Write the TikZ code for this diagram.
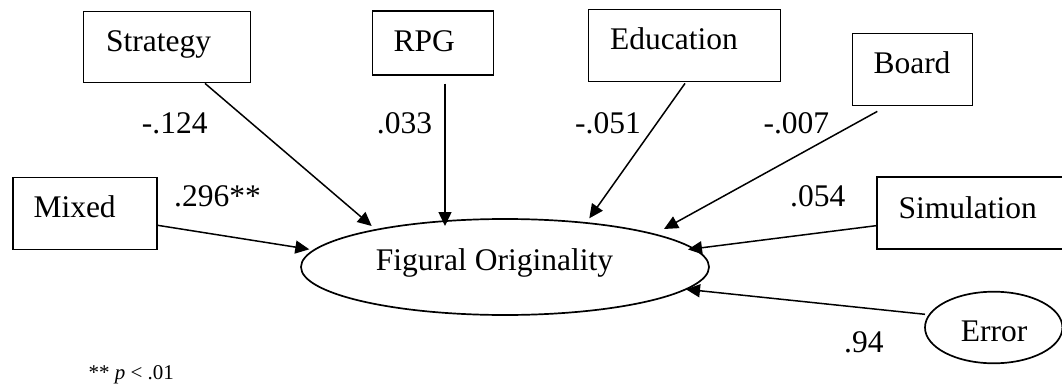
\documentclass[tikz,border=0pt]{standalone}
\usepackage{fontspec}
\setmainfont{Liberation Serif}
\usetikzlibrary{arrows.meta,calc,shapes.geometric}
\begin{document}
\begin{tikzpicture}[x=1pt,y=-1pt,
  box/.style={draw, line width=1.8pt, rectangle, inner sep=0pt},
  ell/.style={draw, line width=1.7pt, ellipse, inner sep=0pt},
  lbl/.style={anchor=base west, inner sep=0pt, font=\fontsize{31.5}{36}\selectfont},
  note/.style={anchor=base west, inner sep=0pt, font=\fontsize{21}{25}\selectfont},
  arr/.style={line width=1.5pt, -{Triangle[length=14pt,width=13pt]}}]
\useasboundingbox (0,0) rectangle (1062,385);
% boxes
\node[box, minimum width=167pt, minimum height=71pt] (strategy) at (167,47) {};
\node[box, minimum width=121pt, minimum height=64pt] (rpg) at (433,43) {};
\node[box, minimum width=192pt, minimum height=72pt] (education) at (684.5,45.5) {};
\node[box, minimum width=120pt, minimum height=72pt] (board) at (912.5,69.5) {};
\node[box, minimum width=144pt, minimum height=72pt] (mixed) at (84.7,213.5) {};
\node[box, minimum width=189pt, minimum height=72pt] (sim) at (971.35,213.3) {};
\node[ell, minimum width=408pt, minimum height=96pt] (fo) at (505,267) {};
\node[ell, minimum width=137.4pt, minimum height=71.6pt] (err) at (993.7,327.5) {};
% texts
\node[lbl] (strategyT) at (106,51.7) {Strategy};
\node[lbl] (rpgT) at (393.3,51.7) {RPG};
\node[lbl] (educationT) at (610,50) {Education};
\node[lbl] (boardT) at (873.3,74) {Board};
\node[lbl] (mixedT) at (33.3,217.3) {Mixed};
\node[lbl] (simT) at (898.3,218.3) {Simulation};
\node[lbl] (foT) at (375.7,270.7) {Figural Originality};
\node[lbl] (errT) at (960.7,341) {Error};
% coefficients
\node[lbl] (c1) at (141.7,133.3) {-.124};
\node[lbl] (c2) at (376.7,133.3) {.033};
\node[lbl] (c3) at (575,133.3) {-.051};
\node[lbl] (c4) at (763.3,133.3) {-.007};
\node[lbl] (c5) at (174,206.7) {.296**};
\node[lbl] (c6) at (790,206.7) {.054};
\node[lbl] (c7) at (844,352.7) {.94};
\node[note] (fn) at (88.3,379.5) {** \textit{p} < .01};
% arrows
\draw[arr] ($(strategy.south)+(38,0)$) -- ($(fo.center)+(-133.3,-41)$);
\draw[arr] ($(rpg.south)+(12,7.7)$) -- ($(fo.center)+(-60,-41)$);
\draw[arr] ($(mixed.east)+(0,11.8)$) -- ($(fo.center)+(-195.7,-17.7)$);
\draw[arr] ($(education.south)+(0.5,1)$) -- ($(fo.center)+(84.3,-48.7)$);
\draw[arr] ($(board.south)+(-35.2,5)$) -- ($(fo.center)+(159,-38)$);
\draw[arr] ($(sim.west)+(0,12.4)$) -- ($(fo.center)+(183,-17.5)$);
\draw[arr] ($(err.center)+(-68.7,-13.2)$) -- ($(fo.center)+(181,22.3)$);
\end{tikzpicture}
\end{document}
